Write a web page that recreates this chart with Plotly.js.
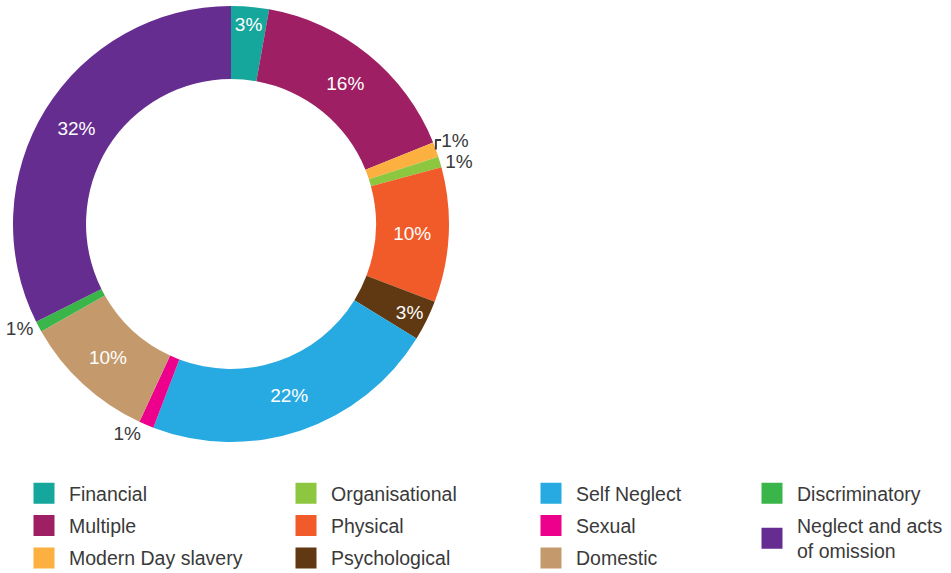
<!DOCTYPE html>
<html>
<head>
<meta charset="utf-8">
<script src="https://cdn.plot.ly/plotly-3.0.1.min.js"></script>
<style>
html,body{margin:0;padding:0;background:#fff;overflow:hidden;}
#wrap{width:951px;height:573px;overflow:hidden;}
#chart{width:951px;height:580px;}
</style>
</head>
<body>
<div id="wrap"><div id="chart"></div></div>
<script>
// Categories in clockwise order from 12 o'clock
const categories = ["Financial", "Multiple", "Modern Day slavery", "Organisational", "Physical",
  "Psychological", "Self Neglect", "Sexual", "Domestic", "Discriminatory", "Neglect and acts of omission"];
const legendLabels = ["Financial", "Multiple", "Modern Day slavery", "Organisational", "Physical",
  "Psychological", "Self Neglect", "Sexual", "Domestic", "Discriminatory", "Neglect and acts<br>of omission"];
// Share of cases (%)
const shares = [2.8, 16.1, 1.1, 0.8, 10.0, 3.0, 22.0, 1.1, 9.9, 0.8, 32.4];
const colors = ["#16a79c", "#9e1f63", "#fbb040", "#8dc63f", "#f15a29", "#603913",
  "#27aae1", "#ec008c", "#c49a6c", "#39b54a", "#662d91"];
const labelPosition = ["inside", "inside", "outside", "outside", "inside", "inside",
  "inside", "outside", "inside", "outside", "inside"];

const FONT = "Liberation Sans, Arial, Helvetica, sans-serif";
const TEXTC = "#3a3a3a";
const W = 951, H = 580;

const half = 218;
const data = [{
  type: "pie",
  labels: categories,
  values: shares,
  sort: false,
  direction: "clockwise",
  rotation: 0,
  hole: 0.665,
  marker: {colors: colors, line: {width: 0}},
  texttemplate: "%{percent:.0%}",
  textposition: labelPosition,
  insidetextorientation: "horizontal",
  insidetextfont: {family: FONT, size: 19, color: "#ffffff"},
  outsidetextfont: {family: FONT, size: 19, color: TEXTC},
  domain: {x: [(231 - half)/W, (231 + half)/W], y: [1 - (6 + 2*half)/H, 1 - 6/H]},
  showlegend: false,
  hoverinfo: "label+percent"
}];

const legendNames = ["legend", "legend2", "legend3", "legend4"];
categories.forEach(function(c, i) {
  data.push({
    type: "scatter",
    mode: "markers",
    x: [null], y: [null],
    name: legendLabels[i],
    legendgroup: c,
    legend: legendNames[Math.floor(i / 3)],
    marker: {symbol: "square", size: 16, color: colors[i], line: {width: 5, color: colors[i]}},
    hoverinfo: "skip",
    showlegend: true
  });
});

const colX = [19, 281, 526, 747];
const layout = {
  width: W, height: H,
  margin: {l: 0, r: 0, t: 0, b: 0},
  paper_bgcolor: "#ffffff",
  plot_bgcolor: "rgba(0,0,0,0)",
  font: {family: FONT, color: TEXTC},
  uniformtext: {mode: "show", minsize: 19},
  xaxis: {visible: false, domain: [0.6, 0.61]},
  yaxis: {visible: false, domain: [0.9, 0.91]}
};
legendNames.forEach(function(ln, k) {
  layout[ln] = {
    x: colX[k] / W, xanchor: "left",
    y: 1 - 474/H, yanchor: "top",
    orientation: "v",
    traceorder: "grouped",
    tracegroupgap: 4,
    itemwidth: 40,
    bgcolor: "rgba(0,0,0,0)",
    borderwidth: 0,
    font: {family: FONT, size: 19.5, color: TEXTC},
    itemclick: false, itemdoubleclick: false
  };
});

Plotly.newPlot("chart", data, layout, {displayModeBar: false, staticPlot: true});
</script>
</body>
</html>
